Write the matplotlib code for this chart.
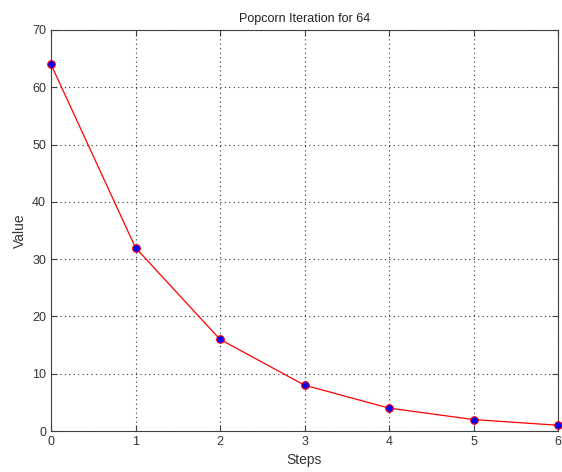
import matplotlib
matplotlib.use('Agg')
import matplotlib.pyplot as plt

steps = [0, 1, 2, 3, 4, 5, 6]
values = [64, 32, 16, 8, 4, 2, 1]

plt.rcParams['font.family'] = 'Liberation Sans'
plt.rcParams['font.size'] = 9

fig = plt.figure(figsize=(5.62, 4.72), dpi=100)
ax = fig.add_axes([51 / 562, 1 - 431 / 472, 507 / 562, 401 / 472])

ax.plot(steps, values, color='red', linewidth=0.9, marker='o', markersize=5.5,
        markerfacecolor='blue', markeredgecolor='red', markeredgewidth=0.8,
        clip_on=False, zorder=3)

ax.set_xlim(0, 6)
ax.set_ylim(0, 70)
ax.set_xticks(range(0, 7))
ax.set_yticks(range(0, 71, 10))
ax.grid(True, color='#333333', linestyle=(0, (1, 3)), linewidth=0.8)
ax.tick_params(direction='in', length=4, color='#404040', labelcolor='#333333',
               top=True, right=True)
for s in ax.spines.values():
    s.set_color('#404040')

ax.set_title('Popcorn Iteration for 64', fontsize=9, color='#222222')
ax.set_xlabel('Steps', fontsize=10, color='#333333')
ax.set_ylabel('Value', fontsize=10, color='#333333')

fig.savefig('out.png', dpi=100)
